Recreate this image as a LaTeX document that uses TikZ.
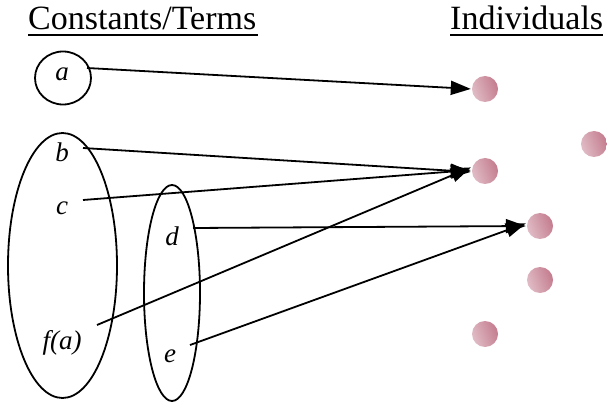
\documentclass[tikz,border=0pt]{standalone}
\usepackage{fontspec}
\setmainfont{Liberation Serif}
\usetikzlibrary{arrows.meta,shapes.geometric}
\definecolor{ballL}{RGB}{224,188,198}
\definecolor{ballR}{RGB}{196,124,142}
\tikzset{
  set/.style={draw,line width=1.8pt,ellipse,inner sep=0pt},
  lbl/.style={font=\fontsize{27}{30}\selectfont\itshape,inner sep=0pt},
  ttl/.style={font=\fontsize{34}{38}\selectfont,inner sep=0pt,anchor=base west},
  ball/.style={circle,minimum size=26pt,inner sep=0pt,left color=ballL,right color=ballR,shading angle=110},
  map/.style={line width=1.8pt,-{Triangle[length=20pt,width=14pt]},shorten >=1pt}
}
\begin{document}
\begin{tikzpicture}[x=1pt,y=-1pt]
\useasboundingbox (0,0) rectangle (607,403);
% titles
\node[ttl] (t1) at (28,30) {Constants/Terms};
\node[ttl] (t2) at (450,30) {Individuals};
\draw[line width=1.5pt] (t1.base west)++(0,5) -- ++(230,0);
\draw[line width=1.5pt] (t2.base west)++(0,5) -- ++(153,0);
% sets
\node[set,minimum width=56pt,minimum height=53pt] (sa) at (63,78) {};
\node[set,minimum width=109pt,minimum height=265pt] (sb) at (62.5,265.5) {};
\node[set,minimum width=56pt,minimum height=216pt] (sd) at (172,293) {};
% labels
\node[lbl] (a) at (62,74) {a};
\node[lbl] (b) at (62,152) {b};
\node[lbl] (c) at (62,208) {c};
\node[lbl] (d) at (172,236) {d};
\node[lbl] (fa) at (62,343) {f(a)};
\node[lbl] (e) at (170,356) {e};
% balls
\node[ball] (i1) at (485,89) {};
\node[ball] (i2) at (485,171) {};
\node[ball] (i3) at (594,144) {};
\node[ball] (i4) at (540,226) {};
\node[ball] (i5) at (540,280) {};
\node[ball] (i6) at (485,334) {};
% start points
\coordinate (pa) at (87,68);
\coordinate (pb) at (83,148);
\coordinate (pc) at (83,200);
\coordinate (pf) at (97,325);
\coordinate (pd) at (193,228);
\coordinate (pe) at (190,345);
% mappings
\draw[map] (pa) -- (i1.west);
\draw[map] (pb) -- ([yshift=-1pt]i2.west);
\draw[map] (pc) -- ([yshift=1pt]i2.west);
\draw[map] (pf) -- ([yshift=4pt]i2.west);
\draw[map] (pd) -- (i4.west);
\draw[map] (pe) -- ([yshift=3pt]i4.west);
\end{tikzpicture}
\end{document}
